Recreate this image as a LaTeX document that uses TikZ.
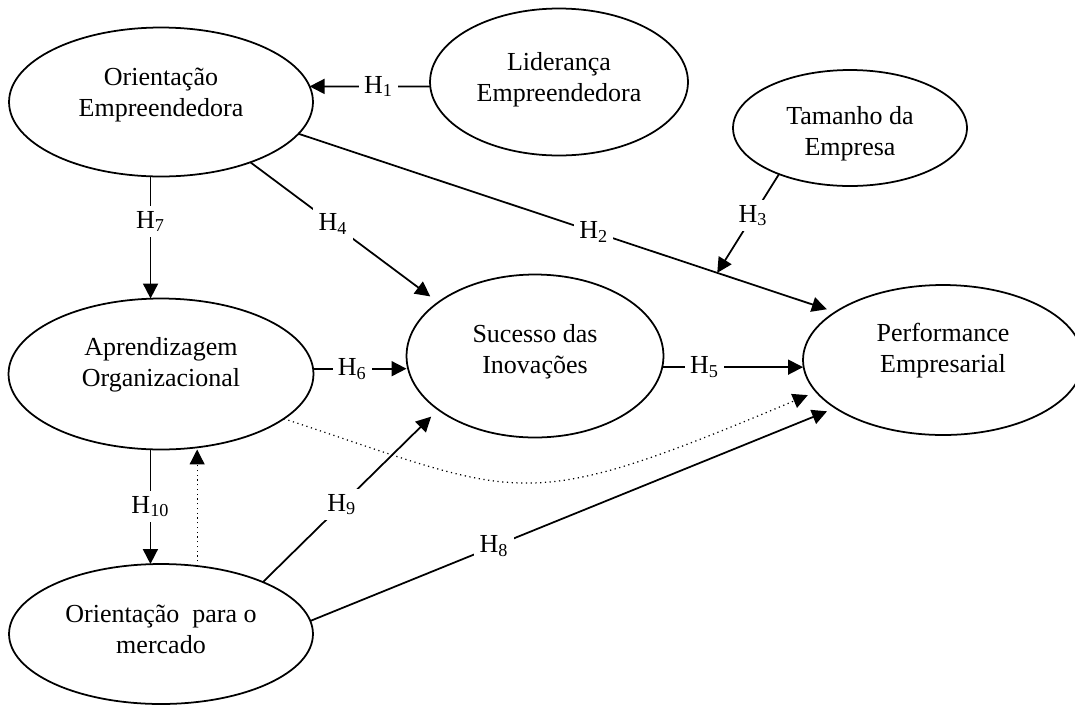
\documentclass[tikz,border=0pt]{standalone}
\usepackage{fontspec}
\setmainfont{Liberation Serif}
\usetikzlibrary{arrows.meta,shapes.geometric}
\tikzstyle{pixelGrid} = [x = .02cm, y = -.02cm]
\tikzstyle{constructStyle} = [draw, ellipse, line width = 1pt, inner sep = 0pt, outer sep = 0pt]
\tikzstyle{constructText} = [align = center, inner sep = 0pt, font = \fontsize{14.8}{17.6}\selectfont]
\tikzstyle{pathArrow} = [line width = 1pt, -{Triangle[length = 8.5pt, width = 8.5pt]}]
\tikzstyle{dottedArrow} = [pathArrow, line width = .7pt, dotted]
\tikzstyle{hypothesisLabel} = [fill = white, inner sep = 3pt, font = \fontsize{14.8}{17.6}\selectfont]
\newcommand{\hyp}[1]{H\textsubscript{#1}}

\begin{document}
\begin{tikzpicture}[pixelGrid]
  \useasboundingbox (0,0) rectangle (1075,704);
  % constructs
  \node [constructStyle, minimum width = 6.08cm, minimum height = 2.98cm] (oe) at (161,102) {};
  \node [constructStyle, minimum width = 5.16cm, minimum height = 2.94cm] (le) at (559,82) {};
  \node [constructStyle, minimum width = 4.68cm, minimum height = 2.32cm] (te) at (850,128) {};
  \node [constructStyle, minimum width = 6.10cm, minimum height = 3.02cm] (ao) at (161,374) {};
  \node [constructStyle, minimum width = 5.14cm, minimum height = 3.26cm] (si) at (535,356) {};
  \node [constructStyle, minimum width = 5.60cm, minimum height = 3.00cm] (pe) at (943,360) {};
  \node [constructStyle, minimum width = 6.08cm, minimum height = 2.80cm] (om) at (161,634) {};

  \node [constructText] (oeText) at (161,95) {Orientação\\Empreendedora};
  \node [constructText] (leText) at (559,80) {Liderança\\Empreendedora};
  \node [constructText] (teText) at (850,134) {Tamanho da\\Empresa};
  \node [constructText] (aoText) at (161,365) {Aprendizagem\\Organizacional};
  \node [constructText] (siText) at (535,352) {Sucesso das\\Inovações};
  \node [constructText] (peText) at (943,351) {Performance\\Empresarial};
  \node [constructText] (omText) at (161,629) {Orientação\ \ para o\\mercado};

  % hypotheses
  \draw [pathArrow] (le.182) -- node [hypothesisLabel, pos = .43] (h1) {\hyp{1}} (oe.6);
  \draw [pathArrow, shorten >= .18cm] (oe.-13) -- node [hypothesisLabel, pos = .55] (h2) {\hyp{2}} coordinate [pos = .78] (sizeTarget) (pe.156);
  \draw [pathArrow] (te.213) -- node [hypothesisLabel, pos = .42] (h3) {\hyp{3}} (sizeTarget);
  \draw [pathArrow, shorten >= .2cm] (oe.-34) -- node [hypothesisLabel, pos = .44] (h4) {\hyp{4}} (si.151);
  \draw [pathArrow] (si.-5) -- node [hypothesisLabel, pos = .3] (h5) {\hyp{5}} (si.-5 -| pe.west);
  \draw [pathArrow] (ao.2) -- node [hypothesisLabel, pos = .42] (h6) {\hyp{6}} (ao.2 -| si.west);
  \draw [pathArrow] (oe.262) -- node [hypothesisLabel, pos = .37] (h7) {\hyp{7}} (oe.262 |- ao.north);
  \draw [pathArrow, shorten >= .18cm] (om.5) -- node [hypothesisLabel, pos = .35] (h8) {\hyp{8}} (pe.204);
  \draw [pathArrow, shorten >= .2cm] (om.27) -- node [hypothesisLabel, pos = .45] (h9) {\hyp{9}} (si.209);
  \draw [pathArrow] (ao.262) -- node [hypothesisLabel, pos = .5] (h10) {\hyp{10}} (ao.262 |- om.north);

  % dotted paths
  \draw [dottedArrow] (om.62) -- (om.62 |- ao.south);
  \draw [dottedArrow, shorten >= .18cm] (ao.-20) .. controls (525,498) and (518,517) .. (pe.194);
\end{tikzpicture}
\end{document}
